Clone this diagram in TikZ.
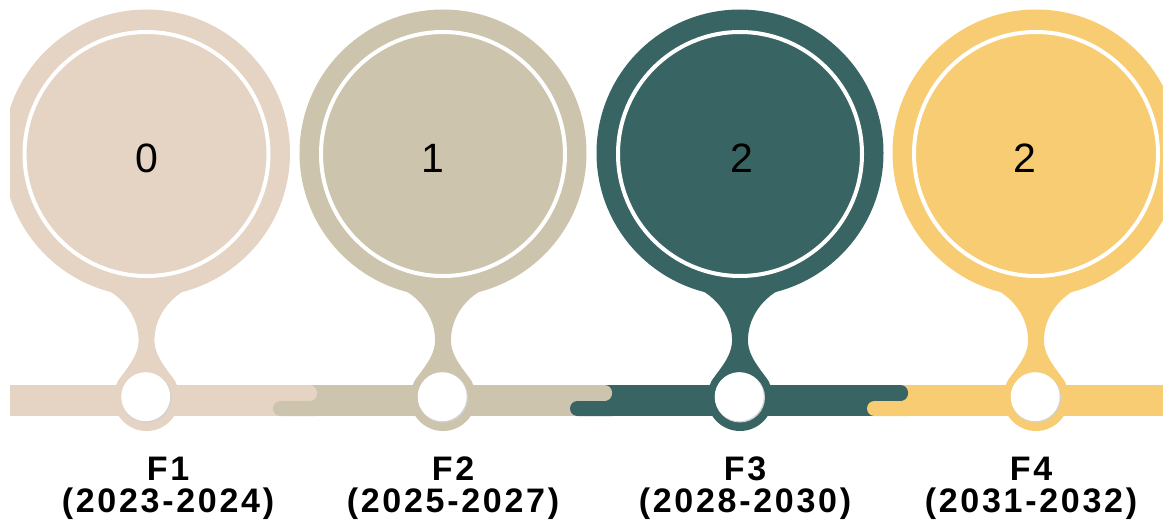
\documentclass[tikz,border=0pt]{standalone}
\usepackage{fontspec}
\setmainfont{Liberation Sans}
\newfontfamily\labfont[LetterSpace=8]{Liberation Sans}
\definecolor{c1}{HTML}{E5D3C3}
\definecolor{c2}{HTML}{CDC4AE}
\definecolor{c3}{HTML}{386564}
\definecolor{c4}{HTML}{F8CC72}
\tikzset{
  numtext/.style={anchor=base,font=\fontsize{41}{41}\selectfont,text=black},
  labtext/.style={anchor=north,inner sep=0pt,align=center,font=\labfont\bfseries\fontsize{34}{32}\selectfont,text=black},
  capbox/.style={rounded corners=7.5pt},
}
\begin{document}
\begin{tikzpicture}[x=1pt,y=-1pt]
\useasboundingbox (0,0) rectangle (1163,524);
\begin{scope}
\clip (10,0) rectangle (1163,524);
% bar bodies
\fill[c1] (10,385) rectangle (283,416);
\fill[c2] (283,385) rectangle (580,416);
\fill[c3] (580,385) rectangle (877,416);
\fill[c4] (877,385) rectangle (1163,416);
% upper caps of each segment
\fill[c1,capbox] (273,385) rectangle (317,401);
\fill[c2,capbox] (570,385) rectangle (612,401);
\fill[c3,capbox] (867,385) rectangle (908,401);
% lower tongues of next segment
\fill[c2,capbox] (273,401) rectangle (325,416);
\fill[c3,capbox] (570,401) rectangle (620,416);
\fill[c4,capbox] (867,401) rectangle (915,416);
% pins
\foreach \cx/\col in {146.5/c1, 443/c2, 740/c3, 1036/c4}{
  \fill[\col] (\cx,153) circle[radius=143.5pt];
  \fill[\col] ({\cx-52},284) .. controls ({\cx-26},293) and ({\cx-9},314) .. ({\cx-8},338)
     .. controls ({\cx-7},356) and ({\cx-20},368) .. ({\cx-29},382)
     -- ({\cx+29},382)
     .. controls ({\cx+20},368) and ({\cx+7},356) .. ({\cx+8},338)
     .. controls ({\cx+9},314) and ({\cx+26},293) .. ({\cx+52},284) -- cycle;
  \fill[\col] (\cx,398) circle[radius=33pt];
  \fill[black!18] (\cx,397.5) circle[radius=25pt];
  \fill[white] ({\cx-0.8},396.7) circle[radius=24.5pt];
  \draw[white,line width=4pt] (\cx,154) circle[radius=122pt];
}
\end{scope}
% numbers
\node[numtext] (n1) at (147,173) {0};
\node[numtext] (n2) at (433,173) {1};
\node[numtext] (n3) at (742,173) {2};
\node[numtext] (n4) at (1025,173) {2};
% labels
\node[labtext] (l1) at (168,457) {F1\\(2023-2024)};
\node[labtext] (l2) at (453,457) {F2\\(2025-2027)};
\node[labtext] (l3) at (745,457) {F3\\(2028-2030)};
\node[labtext] (l4) at (1031,457) {F4\\(2031-2032)};
\end{tikzpicture}
\end{document}
